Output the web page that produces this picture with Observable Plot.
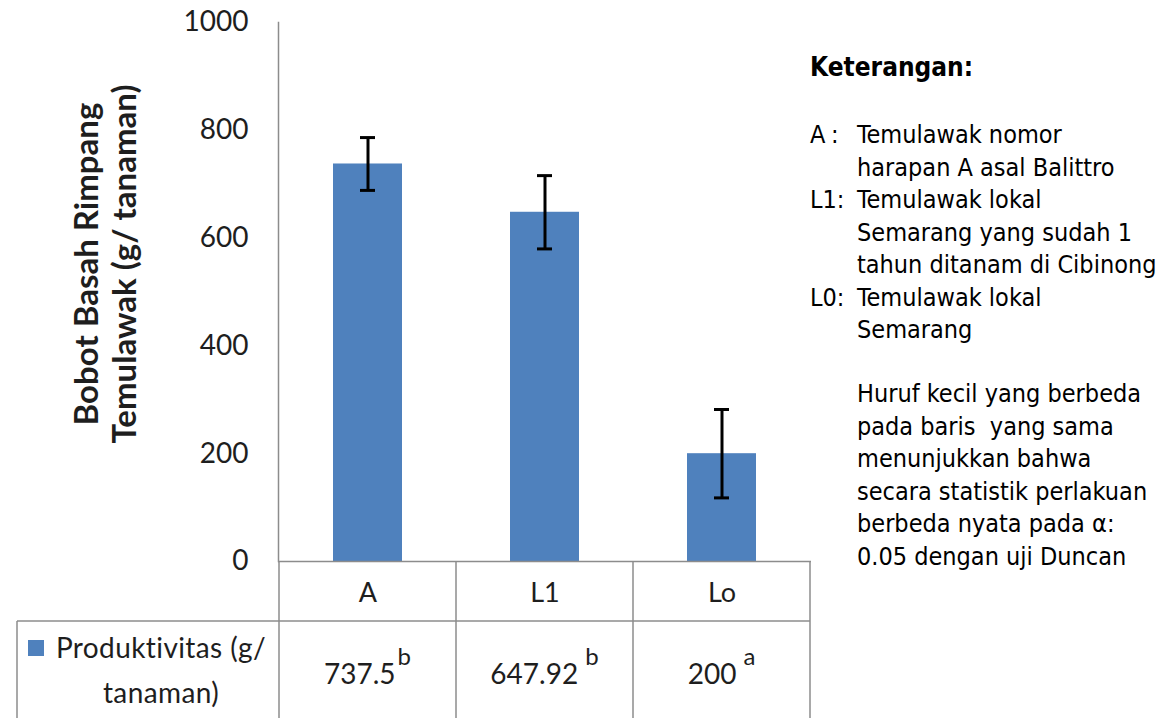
<!DOCTYPE html>
<html><head><meta charset="utf-8">
<script src="https://cdn.jsdelivr.net/npm/d3@7"></script>
<script src="https://cdn.jsdelivr.net/npm/@observablehq/plot@0.6"></script>
<style>body{margin:0;background:#fff;} svg{display:block}</style>
</head><body><div id="chart"></div>
<script>
const categories = ["A", "L1", "Lo"];
const values = [737.5, 647.92, 200];
const errors = [49, 68, 82];
const valueLabels = ["737.5", "647.92", "200"];
const letters = ["b", "b", "a"];
const yTicks = [0, 200, 400, 600, 800, 1000];
const seriesLines = ["Produktivitas (g/", "tanaman)"];
const yTitle = ["Bobot Basah Rimpang", "Temulawak (g/ tanaman)"];
const noteTitle = "Keterangan:";
const noteItems = [
  {key: "A", lines: ["Temulawak nomor", "harapan A asal Balittro"]},
  {key: "L1", lines: ["Temulawak lokal", "Semarang yang sudah 1", "tahun ditanam di Cibinong"]},
  {key: "L0", lines: ["Temulawak lokal", "Semarang"]}
];
const noteParagraph = ["Huruf kecil yang berbeda", "pada baris  yang sama", "menunjukkan bahwa", "secara statistik perlakuan", "berbeda nyata pada α:", "0.05 dengan uji Duncan"];

const data = categories.map((c, i) => ({cat: c, v: values[i], lo: values[i] - errors[i], hi: values[i] + errors[i]}));

const W = 1160, H = 718;
const blue = "#4F81BD", grid = "#8c8c8c", ink = "#1e1e1e";
const plot = Plot.plot({
  width: W, height: H,
  marginLeft: 278, marginRight: 349, marginTop: 22, marginBottom: 157,
  style: {fontFamily: "Lato, 'Open Sans', sans-serif", background: "#fff", color: ink},
  x: {domain: categories, padding: 0, axis: null},
  y: {domain: [0, 1000], axis: null},
  marks: [
    Plot.barY(data, {x: "cat", y: "v", fill: blue, insetLeft: 54, insetRight: 54}),
    Plot.ruleX(data, {x: "cat", y1: "lo", y2: "hi", stroke: "#000", strokeWidth: 3}),
    Plot.tickY(data, {x: "cat", y: "hi", stroke: "#000", strokeWidth: 3, insetLeft: 81, insetRight: 81}),
    Plot.tickY(data, {x: "cat", y: "lo", stroke: "#000", strokeWidth: 3, insetLeft: 81, insetRight: 81}),
    Plot.axisY(yTicks, {tickSize: 0, tickPadding: 30, fontSize: 28, fill: ink, tickFormat: d => String(d), label: null}),
    Plot.frame({anchor: "left", stroke: grid, strokeWidth: 1.5}),
    Plot.ruleY([0], {stroke: grid, strokeWidth: 1.5}),
    Plot.axisX({tickSize: 0, tickPadding: 21, fontSize: 27, fill: ink, label: null}),
    Plot.text([yTitle.join("\n")], {frameAnchor: "left", textAnchor: "middle", lineAnchor: "middle", rotate: -90, dx: -174, dy: -28, fontSize: 33, fontWeight: "bold", lineHeight: 1.15, fill: ink})
  ]
});
document.getElementById("chart").append(plot);

// data table under the chart, aligned with the x scale
const svg = d3.select(plot);
const xs = plot.scale("x"), ys = plot.scale("y");
const bw = xs.bandwidth;
const y0 = ys.apply(0);
const row1 = y0 + 60;
const edges = categories.map(c => xs.apply(c)).concat([xs.apply(categories[categories.length - 1]) + bw]);
const g = svg.append("g").attr("stroke", grid).attr("stroke-width", 1.5);
edges.forEach(e => g.append("line").attr("x1", e).attr("x2", e).attr("y1", y0).attr("y2", H));
g.append("line").attr("x1", 17).attr("x2", edges[edges.length - 1]).attr("y1", row1).attr("y2", row1);
g.append("line").attr("x1", 17).attr("x2", 17).attr("y1", row1).attr("y2", H);

// legend cell
svg.append("rect").attr("x", 28).attr("y", 640).attr("width", 16).attr("height", 16).attr("fill", blue);
const lt = svg.append("text").attr("font-family", "Lato, sans-serif").attr("font-size", 28).attr("letter-spacing", 0.4).attr("fill", ink).attr("text-anchor", "middle");
seriesLines.forEach((s, i) => lt.append("tspan").attr("x", 161).attr("y", 658 + i * 45).text(s));

// value cells
categories.forEach((c, i) => {
  const t = svg.append("text").attr("font-family", "Lato, sans-serif").attr("font-size", 28).attr("fill", ink)
    .attr("text-anchor", "middle").attr("x", xs.apply(c) + bw / 2).attr("y", 684);
  t.append("tspan").text(valueLabels[i]);
  t.append("tspan").attr("dx", i === 0 ? 2 : 7).attr("dy", -19).attr("font-size", 24).text(letters[i]);
});

// notes on the right
const nf = "'DejaVu Sans Condensed', 'Liberation Sans Narrow', sans-serif";
const note = (x, y, s, bold) => svg.append("text").attr("x", x).attr("y", y).attr("text-anchor", "start")
  .attr("font-family", nf).attr("font-weight", bold ? "bold" : "normal").attr("font-size", bold ? 26 : 25).attr("fill", "#000").text(s);
note(810, 76, noteTitle, true);
let ly = 143;
const lh = 32.5;
noteItems.forEach(item => {
  if (item.key === "A") { note(810, ly, "A"); note(831, ly, ":"); }
  else note(810, ly, item.key + ":");
  item.lines.forEach(l => { note(857, ly, l); ly += lh; });
});
noteParagraph.forEach((l, i) => note(857, 402 + i * 32.6, l));
</script></body></html>
